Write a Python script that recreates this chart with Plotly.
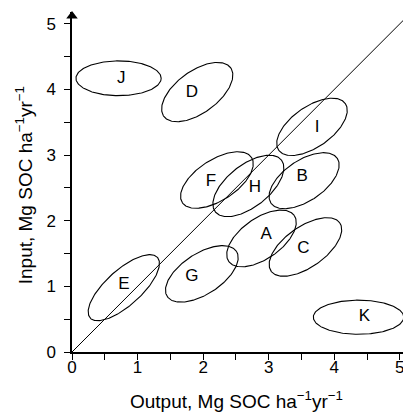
import numpy as np
import plotly.graph_objects as go

# Ellipse data (data units): label, center x, center y, semi-major, semi-minor, angle (deg)
names = ["J", "D", "F", "H", "I", "B", "A", "C", "G", "E", "K"]
cx = [0.71, 1.91, 2.21, 2.69, 3.66, 3.54, 2.89, 3.56, 1.98, 0.79, 4.37]
cy = [4.17, 3.96, 2.62, 2.53, 3.43, 2.61, 1.73, 1.60, 1.19, 0.98, 0.53]
semi_a = [0.65, 0.63, 0.63, 0.64, 0.62, 0.61, 0.61, 0.64, 0.63, 0.69, 0.69]
semi_b = [0.265, 0.32, 0.31, 0.32, 0.31, 0.31, 0.31, 0.31, 0.31, 0.27, 0.26]
angle = [0, 36, 33, 38, 35, 34, 35, 35, 33, 42, 0]
label_x = [0.75, 1.83, 2.12, 2.79, 3.74, 3.51, 2.96, 3.53, 1.83, 0.79, 4.46]
label_y = [4.16, 3.95, 2.59, 2.50, 3.41, 2.67, 1.78, 1.57, 1.14, 1.02, 0.53]

x_ticks = [0, 1, 2, 3, 4, 5]
y_ticks = [0, 1, 2, 3, 4, 5]
minor_ticks = [0.5, 1.5, 2.5, 3.5, 4.5]
one_to_one = [0, 5.3]

x_title = "Output, Mg SOC ha<sup>−1</sup>yr<sup>−1</sup>"
y_title = "Input, Mg SOC ha<sup>−1</sup>yr<sup>−1</sup>"

FONT = "Liberation Sans, Arial, sans-serif"

fig = go.Figure()

t = np.linspace(0, 2 * np.pi, 200)
for i in range(len(names)):
    th = np.deg2rad(angle[i])
    ex = cx[i] + semi_a[i] * np.cos(t) * np.cos(th) - semi_b[i] * np.sin(t) * np.sin(th)
    ey = cy[i] + semi_a[i] * np.cos(t) * np.sin(th) + semi_b[i] * np.sin(t) * np.cos(th)
    fig.add_trace(go.Scatter(x=ex, y=ey, mode="lines",
                             line=dict(color="black", width=1.1),
                             hoverinfo="skip", showlegend=False))

fig.add_trace(go.Scatter(x=one_to_one, y=one_to_one, mode="lines",
                         line=dict(color="black", width=1), showlegend=False))

fig.add_trace(go.Scatter(x=label_x, y=label_y, mode="text", text=names,
                         textfont=dict(family=FONT, size=17, color="black"),
                         showlegend=False))

# axis arrowheads
fig.add_trace(go.Scatter(x=[5.13, 0], y=[0, 5.12], mode="markers",
                         marker=dict(symbol=["triangle-right", "triangle-up"],
                                     size=10, color="black"),
                         cliponaxis=False, showlegend=False))

# page body adds an 8 px offset, so the figure is 8 px smaller
fig.update_layout(
    width=403, height=406,
    margin=dict(l=64, r=0, t=4, b=62, autoexpand=False),
    paper_bgcolor="white", plot_bgcolor="white",
    font=dict(family=FONT, size=17, color="black"),
    annotations=[
        dict(text=x_title, xref="paper", yref="paper", x=0.485, y=-0.141,
             xanchor="center", yanchor="middle", showarrow=False,
             font=dict(size=19)),
        dict(text=y_title, xref="paper", yref="paper", x=-0.139, y=0.49,
             xanchor="center", yanchor="middle", showarrow=False,
             textangle=-90, font=dict(size=19)),
    ],
)
common = dict(showgrid=False, zeroline=False, automargin=False,
              showline=True, linecolor="black", linewidth=1.5,
              ticks="outside", ticklen=6, tickwidth=1.2, tickcolor="black",
              minor=dict(tickvals=minor_ticks, ticks="outside",
                         ticklen=6, tickwidth=1.2, tickcolor="black"),
              tickfont=dict(size=17))
fig.update_xaxes(range=[0, 5.17], tickmode="array", tickvals=x_ticks,
                 ticktext=[str(v) for v in x_ticks], ticklabelstandoff=-7, **common)
fig.update_yaxes(range=[0, 5.18], tickmode="array", tickvals=y_ticks,
                 ticktext=[str(v) for v in y_ticks], ticklabelstandoff=5, **common)

fig.write_html("out.html")
